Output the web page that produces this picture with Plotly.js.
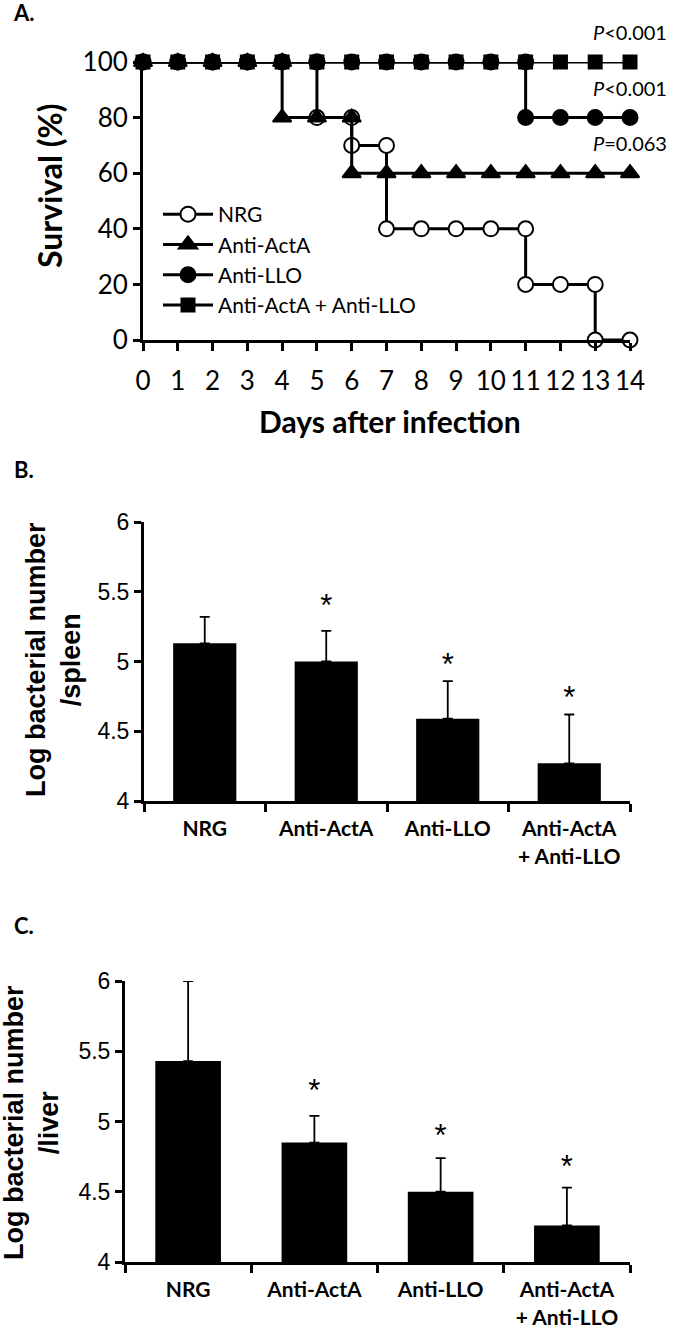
<!DOCTYPE html>
<html>
<head>
<meta charset="utf-8">
<script src="https://cdn.plot.ly/plotly-3.0.1.min.js"></script>
<style>
  html, body { margin: 0; padding: 0; background: #fff; }
  #chart { width: 675px; height: 1330px; }
</style>
</head>
<body>
<div id="chart"></div>
<script>
// ---- panel A: survival (points listed as read, steps have doubled days) ----
const nrgDays   = [0,1,2,3,4,5,5,6,6,7,7,8,9,10,11,11,12,13,13,14];
const nrgSurv   = [100,100,100,100,100,100,80,80,70,70,40,40,40,40,40,20,20,20,0,0];
const actaDays  = [0,1,2,3,4,4,5,6,6,7,8,9,10,11,12,13,14];
const actaSurv  = [100,100,100,100,100,80,80,80,60,60,60,60,60,60,60,60,60];
const lloDays   = [0,1,2,3,4,5,6,7,8,9,10,11,11,12,13,14];
const lloSurv   = [100,100,100,100,100,100,100,100,100,100,100,100,80,80,80,80];
const bothDays  = [0,1,2,3,4,5,6,7,8,9,10,11,12,13,14];
const bothSurv  = [100,100,100,100,100,100,100,100,100,100,100,100,100,100,100];
const pLabels   = ["<i>P</i>&lt;0.001", "<i>P</i>&lt;0.001", "<i>P</i>=0.063"];
const pLevels   = [100, 80, 60];

// ---- panels B and C: bacterial load ----
const groups      = ["NRG", "Anti-ActA", "Anti-LLO", "Anti-ActA<br>+ Anti-LLO"];
const spleenMean  = [5.13, 5.00, 4.59, 4.27];
const spleenErr   = [0.19, 0.22, 0.27, 0.35];
const spleenStarY = [null, 5.38, 4.96, 4.72];
const liverMean   = [5.43, 4.85, 4.50, 4.26];
const liverErr    = [0.57, 0.19, 0.24, 0.27];
const liverStarY  = [null, 5.20, 4.88, 4.66];

const W = 675, H = 1330;
const px = x => x / W;
const py = y => 1 - y / H;

const calibri = "Lato, 'Open Sans', sans-serif";
const arial = "'Liberation Sans', Arial, sans-serif";
const black = "#000";

function survTrace(name, x, y, symbol, fill, size){
  return {
    type: "scatter", mode: "lines+markers", name, legendgroup: name, x, y,
    xaxis: "x", yaxis: "y", cliponaxis: false,
    line: { color: black, width: 3 },
    marker: { symbol, size, color: fill, line: { color: black, width: 2 } }
  };
}

function barTrace(xa, ya, mean, err){
  return {
    type: "bar", x: groups, y: mean, xaxis: xa, yaxis: ya, showlegend: false,
    base: 0, marker: { color: black, line: { width: 0 } },
    error_y: { type: "data", symmetric: false, array: err, arrayminus: err.map(() => 0),
               color: black, thickness: 1.8, width: 5 }
  };
}

function starTrace(xa, ya, ys){
  return {
    type: "scatter", mode: "text", x: groups, y: ys, xaxis: xa, yaxis: ya,
    text: ys.map(v => v == null ? "" : "*"), textposition: "middle center",
    textfont: { family: arial, size: 31, color: black },
    showlegend: false, hoverinfo: "skip", cliponaxis: false
  };
}

const data = [
  survTrace("NRG", nrgDays, nrgSurv, "circle", "#fff", 15),
  survTrace("Anti-ActA", actaDays, actaSurv, "triangle-up", black, 16),
  survTrace("Anti-LLO", lloDays, lloSurv, "circle", black, 15),
  survTrace("Anti-ActA + Anti-LLO", bothDays, bothSurv, "square", black, 13),
  barTrace("x2", "y2", spleenMean, spleenErr),
  starTrace("x2", "y2", spleenStarY),
  barTrace("x3", "y3", liverMean, liverErr),
  starTrace("x3", "y3", liverStarY)
];

const axLine = { showline: true, linecolor: black, linewidth: 3, ticks: "outside",
                 tickcolor: black, tickwidth: 3, ticklen: 8, showgrid: false, zeroline: false,
                 fixedrange: true };

const catAxis = (dom, anchor) => Object.assign({}, axLine, {
  domain: dom, anchor, type: "category", tickson: "boundaries", range: [-0.5, 3.5],
  tickfont: { family: calibri, size: 21, color: black, weight: "bold" }, ticklabelstandoff: 7
});
const valAxis = (dom, anchor) => Object.assign({}, axLine, {
  domain: dom, anchor, range: [4, 6], tickvals: [4, 4.5, 5, 5.5, 6],
  ticktext: ["4", "4.5", "5", "5.5", "6"], ticklen: 7,
  tickfont: { family: arial, size: 23, color: black }
});

const annotations = [
  { text: "<b>A.</b>", x: px(11), y: py(13), xanchor: "left" },
  { text: "<b>B.</b>", x: px(12), y: py(470), xanchor: "left" },
  { text: "<b>C.</b>", x: px(12), y: py(925), xanchor: "left" },
  { text: "<b>Survival (%)</b>", x: px(50), y: py(186), textangle: -90,
    font: { family: calibri, size: 32, color: black } },
  { text: "<b>Days after infection</b>", x: px(390), y: py(421),
    font: { family: calibri, size: 30, color: black } },
  { text: "<b>Log bacterial number<br>/spleen</b>", x: px(53), y: py(660), textangle: -90,
    font: { family: arial, size: 27, color: black } },
  { text: "<b>Log bacterial number<br>/liver</b>", x: px(31), y: py(1123), textangle: -90,
    font: { family: arial, size: 27, color: black } }
].map(a => Object.assign({ xref: "paper", yref: "paper", showarrow: false,
  xanchor: "center", yanchor: "middle",
  font: { family: calibri, size: 22, color: black } }, a));

pLabels.forEach((t, i) => annotations.push({
  text: t, xref: "paper", yref: "y", x: px(669), y: pLevels[i], yshift: 30,
  xanchor: "right", yanchor: "middle", showarrow: false,
  font: { family: calibri, size: 20, color: black }
}));

const layout = {
  width: W, height: H, margin: { l: 0, r: 0, t: 0, b: 0 },
  paper_bgcolor: "#fff", plot_bgcolor: "#fff",
  bargap: 0.48,
  xaxis: Object.assign({}, axLine, {
    domain: [px(143), px(630)], anchor: "y", range: [0, 14], dtick: 1,
    tickfont: { family: calibri, size: 26, color: black }, ticklabelstandoff: 8
  }),
  yaxis: Object.assign({}, axLine, {
    domain: [py(340), py(62)], anchor: "x", range: [0, 100], dtick: 20, ticklen: 7,
    tickfont: { family: calibri, size: 26, color: black }
  }),
  xaxis2: catAxis([px(144), px(630)], "y2"),
  yaxis2: valAxis([py(801), py(522)], "x2"),
  xaxis3: catAxis([px(125), px(630)], "y3"),
  yaxis3: valAxis([py(1262), py(981)], "x3"),
  showlegend: true,
  legend: {
    x: px(158), y: py(194), xanchor: "left", yanchor: "top",
    bgcolor: "rgba(0,0,0,0)", font: { family: calibri, size: 21, color: black },
    tracegroupgap: 3, itemwidth: 50, traceorder: "normal"
  },
  annotations
};

Plotly.newPlot("chart", data, layout, { displayModeBar: false, staticPlot: true });
</script>
</body>
</html>
